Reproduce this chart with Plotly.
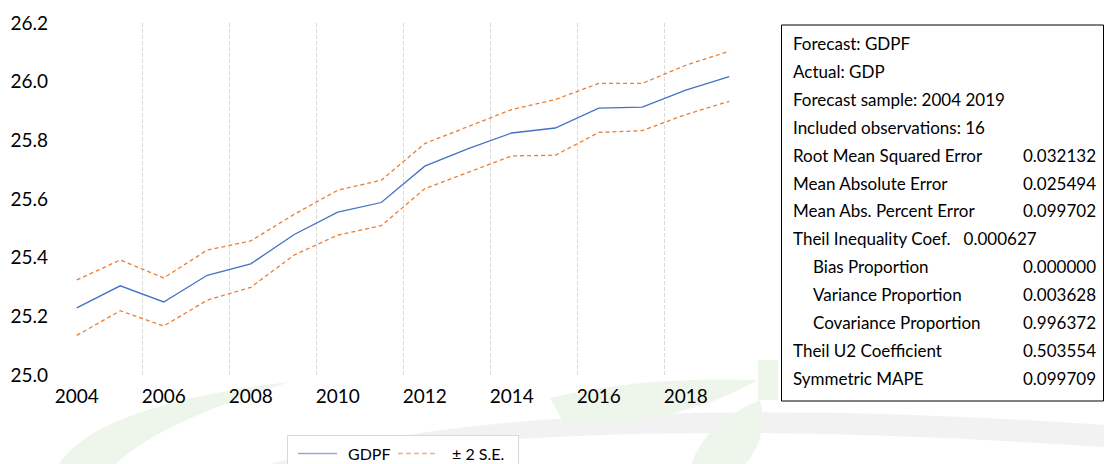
import plotly.graph_objects as go

years = list(range(2004, 2020))
gdpf = [25.229, 25.304, 25.249, 25.340, 25.379, 25.479, 25.555, 25.588,
        25.712, 25.772, 25.825, 25.842, 25.910, 25.913, 25.971, 26.017]
upper = [25.324, 25.392, 25.331, 25.426, 25.457, 25.548, 25.630, 25.664,
         25.789, 25.847, 25.905, 25.939, 25.994, 25.994, 26.056, 26.104]
lower = [25.135, 25.219, 25.167, 25.255, 25.299, 25.409, 25.477, 25.509,
         25.635, 25.690, 25.747, 25.749, 25.827, 25.833, 25.888, 25.933]

x_ticks = [2004, 2006, 2008, 2010, 2012, 2014, 2016, 2018]
y_ticks = [25.0, 25.2, 25.4, 25.6, 25.8, 26.0, 26.2]

series_names = ["GDPF", "± 2 S.E."]

stat_labels = ["Forecast: GDPF", "Actual: GDP", "Forecast sample: 2004 2019",
               "Included observations: 16", "Root Mean Squared Error",
               "Mean Absolute Error", "Mean Abs. Percent Error",
               "Theil Inequality Coef.   0.000627", "Bias Proportion",
               "Variance Proportion", "Covariance Proportion",
               "Theil U2 Coefficient", "Symmetric MAPE"]
stat_values = ["", "", "", "", "0.032132", "0.025494", "0.099702", "",
               "0.000000", "0.003628", "0.996372", "0.503554", "0.099709"]
stat_indent = [0, 0, 0, 0, 0, 0, 0, 0, 1, 1, 1, 0, 0]

W, H = 1104, 464
L, R, T, B = 55, 353, 23, 89
PW, PH = W - L - R, H - T - B
FONT = "Lato"
BLUE = "#4472C4"
ORANGE = "#ED7D31"
WM_GREEN = "#eef5ea"
WM_GRAY = "#f2f2f2"


def px(xp):
    return (xp - L) / PW


def py(yp):
    return (H - B - yp) / PH


def path(cmds):
    # cmds: list of (letter, [x, y, x, y, ...]) in pixel coordinates
    out = []
    for c, pts in cmds:
        coords = []
        for k in range(0, len(pts), 2):
            coords.append("%.5f,%.5f" % (px(pts[k]), py(pts[k + 1])))
        out.append(c + " ".join(coords))
    return " ".join(out) + " Z"


fig = go.Figure()
fig.add_trace(go.Scatter(x=years, y=gdpf, mode="lines", name=series_names[0],
                         showlegend=False,
                         line=dict(color=BLUE, width=1.3)))
fig.add_trace(go.Scatter(x=years, y=upper, mode="lines", name=series_names[1],
                         showlegend=False,
                         line=dict(color=ORANGE, width=1.3, dash="4px,3px")))
fig.add_trace(go.Scatter(x=years, y=lower, mode="lines", name=series_names[1],
                         showlegend=False,
                         line=dict(color=ORANGE, width=1.3, dash="4px,3px")))

shapes = []
# faint background watermark (decorative)
wm = [
    (WM_GRAY, [("M", [250, 470]), ("Q", [520, 385, 1104, 425]),
               ("L", [1104, 470])]),
    ("white", [("M", [300, 470]), ("Q", [540, 410, 1104, 447]),
               ("L", [1104, 470])]),
    (WM_GREEN, [("M", [55, 470]), ("Q", [90, 405, 290, 382]),
                ("Q", [150, 425, 110, 470])]),
    (WM_GREEN, [("M", [550, 398]), ("Q", [640, 376, 758, 380]),
                ("Q", [680, 425, 565, 425])]),
    (WM_GREEN, [("M", [690, 470]), ("Q", [700, 425, 760, 400]),
                ("Q", [770, 440, 740, 470])]),
    (WM_GREEN, [("M", [758, 360]), ("L", [778, 360]), ("L", [778, 400]),
                ("L", [758, 400])]),
]
for col, cmds in wm:
    shapes.append(dict(type="path", xref="paper", yref="paper", layer="below",
                       path=path(cmds), fillcolor=col, line=dict(width=0)))
# white chart area
shapes.append(dict(type="rect", xref="paper", yref="paper", layer="below",
                   x0=px(0), x1=px(758), y0=py(378), y1=py(0),
                   fillcolor="white", line=dict(width=0)))
# statistics box
shapes.append(dict(type="rect", xref="paper", yref="paper", layer="below",
                   x0=px(781.5), x1=px(1103.5), y0=py(401), y1=py(25),
                   fillcolor="white", line=dict(color="#000000", width=1)))
# legend box and samples
shapes.append(dict(type="rect", xref="paper", yref="paper", layer="above",
                   x0=px(287.5), x1=px(518.5), y0=py(470), y1=py(435.5),
                   fillcolor="white", line=dict(color="#d9d9d9", width=1)))
shapes.append(dict(type="line", xref="paper", yref="paper", layer="above",
                   x0=px(298), x1=px(337), y0=py(453.5), y1=py(453.5),
                   line=dict(color="#8FAADC", width=1.5)))
shapes.append(dict(type="line", xref="paper", yref="paper", layer="above",
                   x0=px(398), x1=px(437), y0=py(453.5), y1=py(453.5),
                   line=dict(color="#F4B183", width=1.5, dash="5px,3px")))

annotations = []
annotations.append(dict(text=series_names[0], xref="paper", yref="paper",
                        x=px(346), y=py(453.5), xanchor="left", yanchor="middle",
                        showarrow=False,
                        font=dict(family=FONT, size=16, color="#000000")))
annotations.append(dict(text=series_names[1], xref="paper", yref="paper",
                        x=px(450), y=py(453.5), xanchor="left", yanchor="middle",
                        showarrow=False,
                        font=dict(family=FONT, size=16, color="#000000")))
for i, (lab, val, ind) in enumerate(zip(stat_labels, stat_values, stat_indent)):
    yy = py(43.5 + 27.9 * i)
    annotations.append(dict(text=lab, xref="paper", yref="paper",
                            x=px(791 + 20 * ind), y=yy, xanchor="left",
                            yanchor="middle", showarrow=False,
                            font=dict(family=FONT, size=17, color="#000000")))
    if val:
        annotations.append(dict(text=val, xref="paper", yref="paper",
                                x=px(1098), y=yy, xanchor="right",
                                yanchor="middle", showarrow=False,
                                font=dict(family=FONT, size=17, color="#000000")))

fig.update_layout(
    width=W, height=H,
    margin=dict(l=L, r=R, t=T, b=B, pad=0, autoexpand=False),
    paper_bgcolor="white", plot_bgcolor="rgba(0,0,0,0)",
    font=dict(family=FONT, color="#000000"),
    shapes=shapes, annotations=annotations,
    showlegend=False,
    xaxis=dict(range=[2003.5, 2019.5], tickvals=x_ticks,
               ticktext=[str(v) for v in x_ticks], showgrid=False,
               zeroline=False, showline=False, ticks="",
               ticklabelstandoff=8,
               tickfont=dict(family=FONT, size=19, color="#000000"),
               minor=dict(tickvals=[2005.5, 2007.5, 2009.5, 2011.5, 2013.5,
                                    2015.5, 2017.5],
                          showgrid=True, gridcolor="#d9d9d9", gridwidth=1,
                          griddash="4px,2px")),
    yaxis=dict(range=[25.0, 26.2], tickvals=y_ticks,
               ticktext=["%.1f" % v for v in y_ticks], showgrid=False,
               zeroline=False, showline=False, ticks="",
               ticklabelstandoff=6,
               tickfont=dict(family=FONT, size=19, color="#000000")),
)

fig.write_html("out.html", config={"displayModeBar": False},
               post_script="document.body.style.margin='0';"
                           "document.body.style.overflow='hidden';")
